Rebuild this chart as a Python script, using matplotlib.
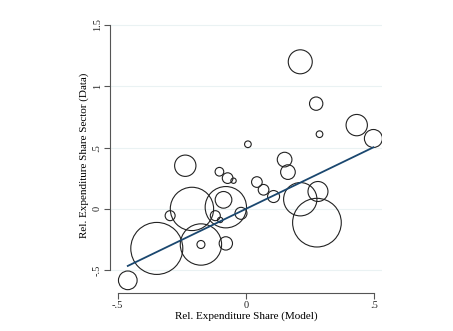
import numpy as np
import matplotlib.pyplot as plt

# sector data: model share, data share, weight (bubble size)
model_share = [-0.460, -0.347, -0.295, -0.236, -0.210, -0.175, -0.175, -0.119, -0.103, -0.100,
               -0.087, -0.078, -0.078, -0.071, -0.048, -0.019, 0.008, 0.043, 0.069, 0.108,
               0.151, 0.164, 0.212, 0.212, 0.274, 0.281, 0.277, 0.287, 0.432, 0.497]
data_share = [-0.582, -0.322, -0.055, 0.352, 0.000, -0.290, -0.290, -0.055, 0.303, -0.090,
              0.074, 0.014, -0.281, 0.251, 0.230, -0.036, 0.527, 0.219, 0.156, 0.101,
              0.402, 0.300, 0.079, 1.199, 0.858, 0.142, -0.112, 0.609, 0.683, 0.574]
weight = [28, 78, 15, 32, 65, 62, 12, 15, 13, 8,
          25, 62, 20, 16, 8, 18, 10, 16, 16, 18,
          22, 22, 50, 36, 20, 30, 73, 10, 32, 27]
fit_intercept = 0.0
fit_slope = 1.01

xticks = [-0.5, 0, 0.5]
xticklabels = ["-.5", "0", ".5"]
yticks = [-0.5, 0, 0.5, 1, 1.5]
yticklabels = ["-.5", "0", ".5", "1", "1.5"]

plt.rcParams['font.family'] = ['Liberation Serif', 'DejaVu Serif']

fig = plt.figure(figsize=(4.53, 3.31), dpi=100)
ax = fig.add_axes([0.243, 0.116, 0.600, 0.830])

w = np.array(weight, dtype=float)
# radius in pixels -> marker area in points^2
sizes = (2 * w / 3 * 0.72) ** 2
ax.scatter(model_share, data_share, s=sizes, facecolors='none', edgecolors='#222222',
           linewidths=0.8, zorder=3)

xs = np.array([min(model_share), max(model_share)])
ax.plot(xs, fit_intercept + fit_slope * xs, color='#1a476f', lw=1.3, zorder=4)

ax.set_xlim(-0.529, 0.530)
ax.set_ylim(-0.682, 1.557)
ax.set_xticks(xticks)
ax.set_xticklabels(xticklabels, fontsize=7.5)
ax.set_yticks(yticks)
ax.set_yticklabels(yticklabels, fontsize=7.5, rotation=90, va='center')
for t in yticks:
    ax.axhline(t, color='#eaf2f3', lw=0.8, zorder=0)

for s in ['top', 'right']:
    ax.spines[s].set_visible(False)
ax.spines['left'].set_bounds(-0.5, 1.5)
ax.spines['bottom'].set_bounds(-0.5, 0.5)
for s in ['left', 'bottom']:
    ax.spines[s].set_color('#555555')
    ax.spines[s].set_linewidth(0.8)
ax.tick_params(colors='#555555', length=4, width=0.8, labelcolor='#222222', pad=2)

ax.set_xlabel("Rel. Expenditure Share (Model)", fontsize=8, labelpad=1)
ax.set_ylabel("Rel. Expenditure Share Sector (Data)", fontsize=8, labelpad=3)

fig.savefig("out.png", dpi=100)
